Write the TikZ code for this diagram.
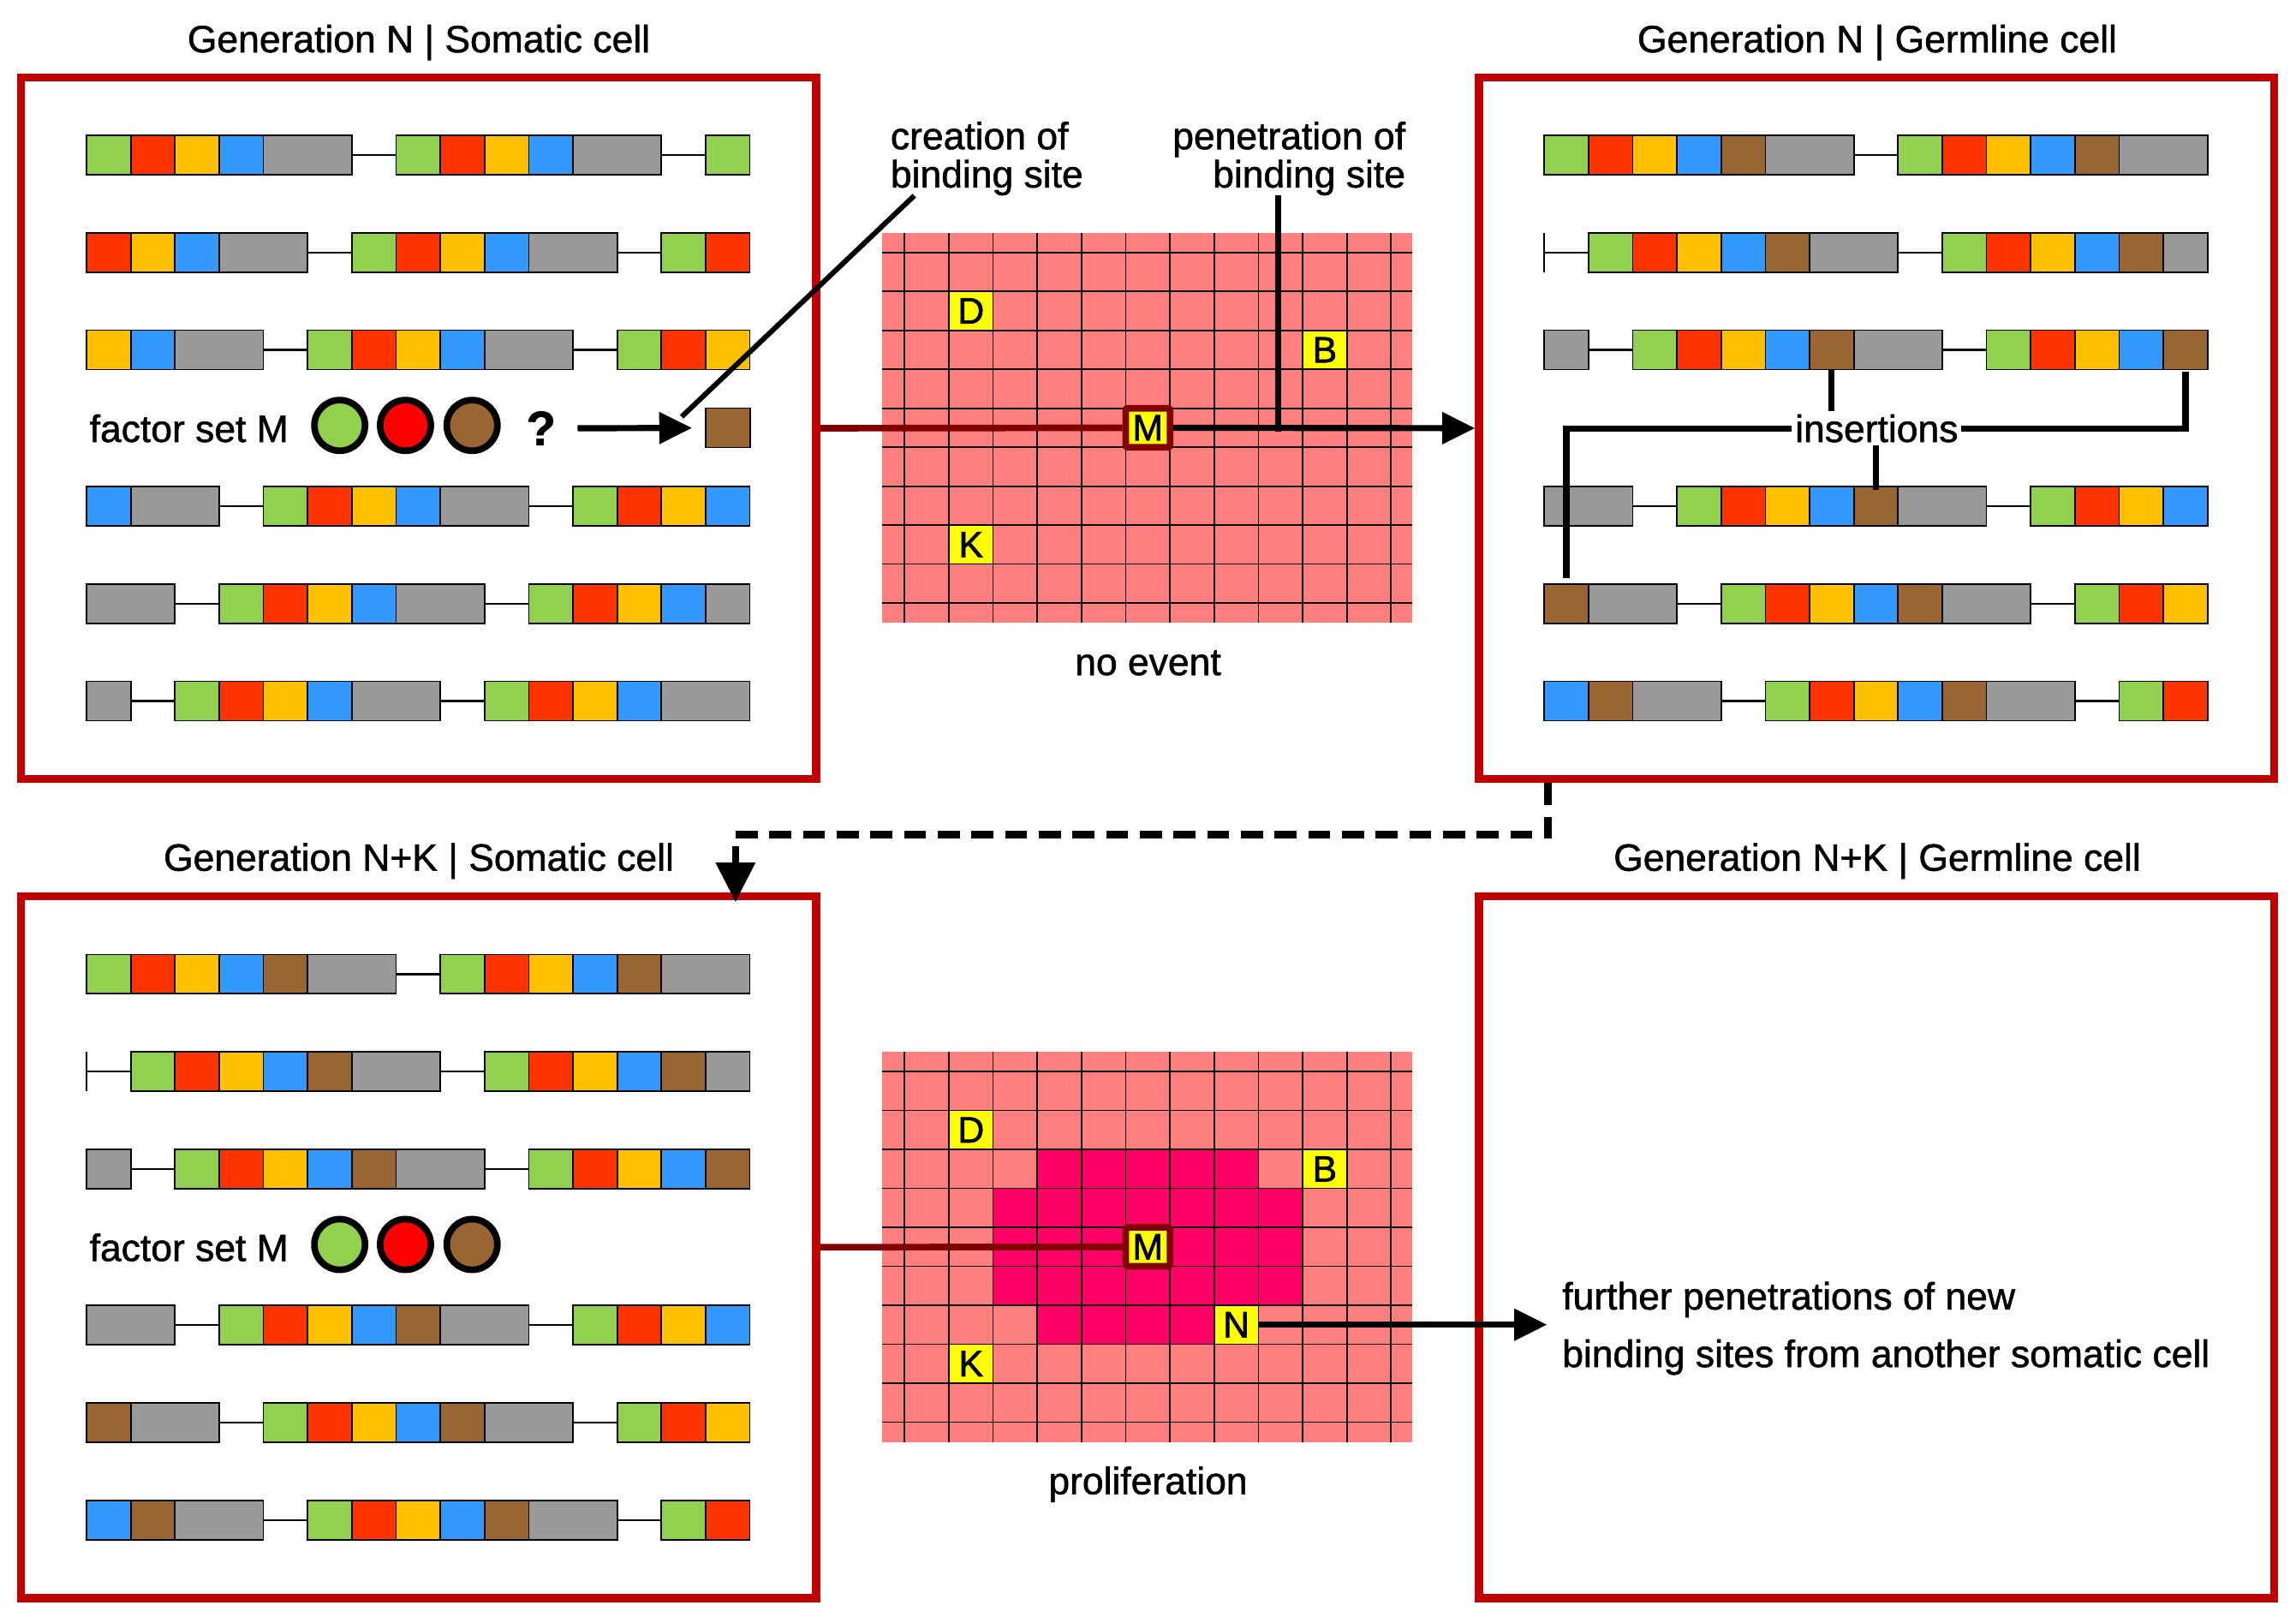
\documentclass[tikz,border=0pt]{standalone}
\usepackage{fontspec}
\setmainfont{Liberation Sans}[FakeBold=1.2]
\newfontfamily\lblfont{Liberation Sans}[FakeBold=1.6]
\usetikzlibrary{arrows.meta}
\definecolor{boxred}{HTML}{C00000}
\definecolor{maroonl}{HTML}{800000}
\definecolor{salmon}{HTML}{FF7F7F}
\definecolor{hotpink}{HTML}{FF0066}
\definecolor{cG}{HTML}{92D050}
\definecolor{cR}{HTML}{FF3300}
\definecolor{cY}{HTML}{FFC000}
\definecolor{cB}{HTML}{3399FF}
\definecolor{cK}{HTML}{999999}
\definecolor{cW}{HTML}{996633}
\definecolor{fred}{HTML}{FF0000}
\definecolor{lab}{HTML}{FFFF00}

\newcommand\segfill[4]{\filldraw[fill=#1,draw=black,line width=1] (#2,#4) rectangle (#3,#4+26.8);}
\newcommand\segG[3]{\segfill{cG}{#1}{#2}{#3}}
\newcommand\segR[3]{\segfill{cR}{#1}{#2}{#3}}
\newcommand\segY[3]{\segfill{cY}{#1}{#2}{#3}}
\newcommand\segB[3]{\segfill{cB}{#1}{#2}{#3}}
\newcommand\segK[3]{\segfill{cK}{#1}{#2}{#3}}
\newcommand\segW[3]{\segfill{cW}{#1}{#2}{#3}}
\newcommand\segX[3]{\draw[line width=1.3] (#1,#3+13.4) -- (#2,#3+13.4);}
\newcommand\chrom[3]{%
  \xdef\curx{#1}%
  \foreach \segcol/\segw in {#3}{%
    \pgfmathsetmacro\xa{\curx}%
    \pgfmathsetmacro\xb{\curx+\segw*30.2}%
    \csname seg\segcol\endcsname{\xa}{\xb}{#2}%
    \xdef\curx{\xb}%
  }%
}
\newcommand\somrows[2]{%
  \chrom{#1}{92.5+#2}{G/1,R/1,Y/1,B/1,K/2,X/1,G/1,R/1,Y/1,B/1,K/2,X/1,G/1}
  \chrom{#1}{159+#2}{R/1,Y/1,B/1,K/2,X/1,G/1,R/1,Y/1,B/1,K/2,X/1,G/1,R/1}
  \chrom{#1}{225.5+#2}{Y/1,B/1,K/2,X/1,G/1,R/1,Y/1,B/1,K/2,X/1,G/1,R/1,Y/1}
  \chrom{#1}{332.2+#2}{B/1,K/2,X/1,G/1,R/1,Y/1,B/1,K/2,X/1,G/1,R/1,Y/1,B/1}
  \chrom{#1}{398.8+#2}{K/2,X/1,G/1,R/1,Y/1,B/1,K/2,X/1,G/1,R/1,Y/1,B/1,K/1}
  \chrom{#1}{465.3+#2}{K/1,X/1,G/1,R/1,Y/1,B/1,K/2,X/1,G/1,R/1,Y/1,B/1,K/2}
}
\newcommand\germrows[2]{%
  \chrom{#1}{92.5+#2}{G/1,R/1,Y/1,B/1,W/1,K/2,X/1,G/1,R/1,Y/1,B/1,W/1,K/2}
  \chrom{#1}{159+#2}{X/1,G/1,R/1,Y/1,B/1,W/1,K/2,X/1,G/1,R/1,Y/1,B/1,W/1,K/1}
  \draw[line width=1] (#1,159+#2) -- (#1,185.8+#2);
  \chrom{#1}{225.5+#2}{K/1,X/1,G/1,R/1,Y/1,B/1,W/1,K/2,X/1,G/1,R/1,Y/1,B/1,W/1}
  \chrom{#1}{332.2+#2}{K/2,X/1,G/1,R/1,Y/1,B/1,W/1,K/2,X/1,G/1,R/1,Y/1,B/1}
  \chrom{#1}{398.8+#2}{W/1,K/2,X/1,G/1,R/1,Y/1,B/1,W/1,K/2,X/1,G/1,R/1,Y/1}
  \chrom{#1}{465.3+#2}{B/1,W/1,K/2,X/1,G/1,R/1,Y/1,B/1,W/1,K/2,X/1,G/1,R/1}
}
\newcommand\gridlines[1]{%
  \foreach \k in {0,...,11}{\draw[gridline] (617.8+\k*30.2,159+#1) -- (617.8+\k*30.2,425.3+#1);}
  \foreach \j in {0,...,9}{\draw[gridline] (602.6,172.4+\j*26.6+#1) -- (964.5,172.4+\j*26.6+#1);}
}

\begin{document}
\begin{tikzpicture}[x=1pt,y=-1pt,
  cellbox/.style={draw=boxred,line width=5.5,inner sep=0,minimum width=543,minimum height=479.2},
  txt/.style={inner sep=0,font=\fontsize{26}{30}\selectfont},
  lbl/.style={inner sep=0,fill=lab,minimum width=30.2,minimum height=26.6,font=\fontsize{25}{28}\lblfont},
  mbox/.style={lbl,draw=maroonl,line width=4.5,rounded corners=1.5},
  factor/.style={circle,draw=black,line width=4.5,minimum size=34.6,inner sep=0},
  brownsq/.style={draw=black,fill=cW,line width=1,inner sep=0,minimum width=30.4,minimum height=26.9},
  gridline/.style={line width=1,draw=black},
  conn/.style={line width=4.2,draw=black},
  arr/.style={conn,-{Triangle[length=22.4pt,width=21pt]}},
  redline/.style={line width=4.5,draw=maroonl},
  dashconn/.style={line width=5,draw=black,dash pattern=on 15pt off 8pt,-{Triangle[length=27pt,width=26pt]}}
]
\useasboundingbox (0,0) rectangle (1568,1104);

% cell boxes
\node[cellbox] (boxTL) at (285.8,292.4) {};
\node[cellbox] (boxTR) at (1281.6,292.4) {};
\node[cellbox] (boxBL) at (285.8,851.7) {};
\node[cellbox] (boxBR) at (1281.6,851.7) {};

% titles
\node[txt,anchor=base] (tTL) at (286,35.7) {Generation N \textbar{} Somatic cell};
\node[txt,anchor=base] (tTR) at (1282,35.7) {Generation N \textbar{} Germline cell};
\node[txt,anchor=base] (tBL) at (286,594.6) {Generation N+K \textbar{} Somatic cell};
\node[txt,anchor=base] (tBR) at (1282,594.6) {Generation N+K \textbar{} Germline cell};

% chromosomes
\somrows{59.1}{0}
\germrows{1054.6}{0}
\germrows{59.1}{559.3}

% factor sets
\node[txt,anchor=base west] (fsT) at (61,301.8) {factor set M};
\node[factor,fill=cG] (fgT) at (232,290.5) {};
\node[factor,fill=fred] (frT) at (276.9,290.5) {};
\node[factor,fill=cW] (fbT) at (322.4,290.5) {};
\node[inner sep=0,anchor=base,font=\fontsize{33}{36}\selectfont\bfseries] (qm) at (369.5,304) {?};
\node[brownsq] (bs) at (497,292.2) {};

\node[txt,anchor=base west] (fsB) at (61,861.1) {factor set M};
\node[factor,fill=cG] (fgB) at (232,849.8) {};
\node[factor,fill=fred] (frB) at (276.9,849.8) {};
\node[factor,fill=cW] (fbB) at (322.4,849.8) {};

% top grid
\fill[salmon] (602.6,159) rectangle (964.5,425.3);
\node[lbl] (Dtop) at (663.1,212.3) {D};
\node[lbl] (Btop) at (904.7,238.9) {B};
\node[lbl] (Ktop) at (663.1,371.9) {K};
\gridlines{0}
\node[mbox] (Mtop) at (783.9,292.1) {M};

% bottom grid
\fill[salmon] (602.6,718.3) rectangle (964.5,984.6);
\fill[hotpink] (708.4,784.9) rectangle (859.4,811.5);
\fill[hotpink] (678.2,811.5) rectangle (889.6,891.3);
\fill[hotpink] (708.4,891.3) rectangle (829.2,917.9);
\node[lbl] (Dbot) at (663.1,771.6) {D};
\node[lbl] (Bbot) at (904.7,798.2) {B};
\node[lbl] (Kbot) at (663.1,931.2) {K};
\node[lbl] (Nbot) at (844.3,904.6) {N};
\gridlines{559.3}
\node[mbox] (Mbot) at (783.9,851.4) {M};

% texts
\node[txt,anchor=base west] (cre1) at (608,101.9) {creation of};
\node[txt,anchor=base west] (cre2) at (608,128) {binding site};
\node[txt,anchor=base east] (pen1) at (960,101.9) {penetration of};
\node[txt,anchor=base east] (pen2) at (960,128) {binding site};
\node[txt,anchor=base] (noev) at (784,461) {no event};
\node[txt,anchor=base] (prol) at (784,1020.3) {proliferation};
\node[txt,anchor=base,inner sep=2] (ins) at (1281.6,301.8) {insertions};
\node[txt,anchor=base west] (fp1) at (1066.7,894.2) {further penetrations of new};
\node[txt,anchor=base west] (fp2) at (1066.7,933.5) {binding sites from another somatic cell};

% coordinates for free ends
\coordinate (crs) at (624.4,133.6);
\coordinate (crend) at (465.5,284.6);
\coordinate (penfoot) at (873,294.6);
\coordinate (ins5) at (1069.7,398.8);
\coordinate (ins3r) at (1492.5,252.3);
\coordinate (ins3m) at (1250.9,252.3);
\coordinate (ins4) at (1281.1,334.5);
\coordinate (dstart) at (1057.2,534.8);
\coordinate (dend) at (502.3,616);
\coordinate (nend) at (1056.5,904.6);

% connectors
\draw[redline] (boxTL.east) -- (Mtop.west);
\draw[arr] (Mtop.east) -- (boxTR.west);
\draw[conn] (penfoot |- pen2.south) -- (penfoot);
\draw[line width=3.5] (crs) -- (crend);
\draw[arr,shorten <=14.7pt,shorten >=8.7pt] (qm.east) -- (bs.west);
\draw[conn,shorten >=4pt] (ins.west) -| (ins5);
\draw[conn,shorten >=1.5pt] (ins.east) -| (ins3r);
\draw[conn] (ins3m) -- (ins3m |- ins.north);
\draw[conn] (ins.south -| ins4) -- (ins4);
\draw[dashconn] (dstart) -- ++(0,35.2) -| (dend);
\draw[redline] (boxBL.east) -- (Mbot.west);
\draw[arr] (Nbot.east) -- (nend);
\end{tikzpicture}
\end{document}
